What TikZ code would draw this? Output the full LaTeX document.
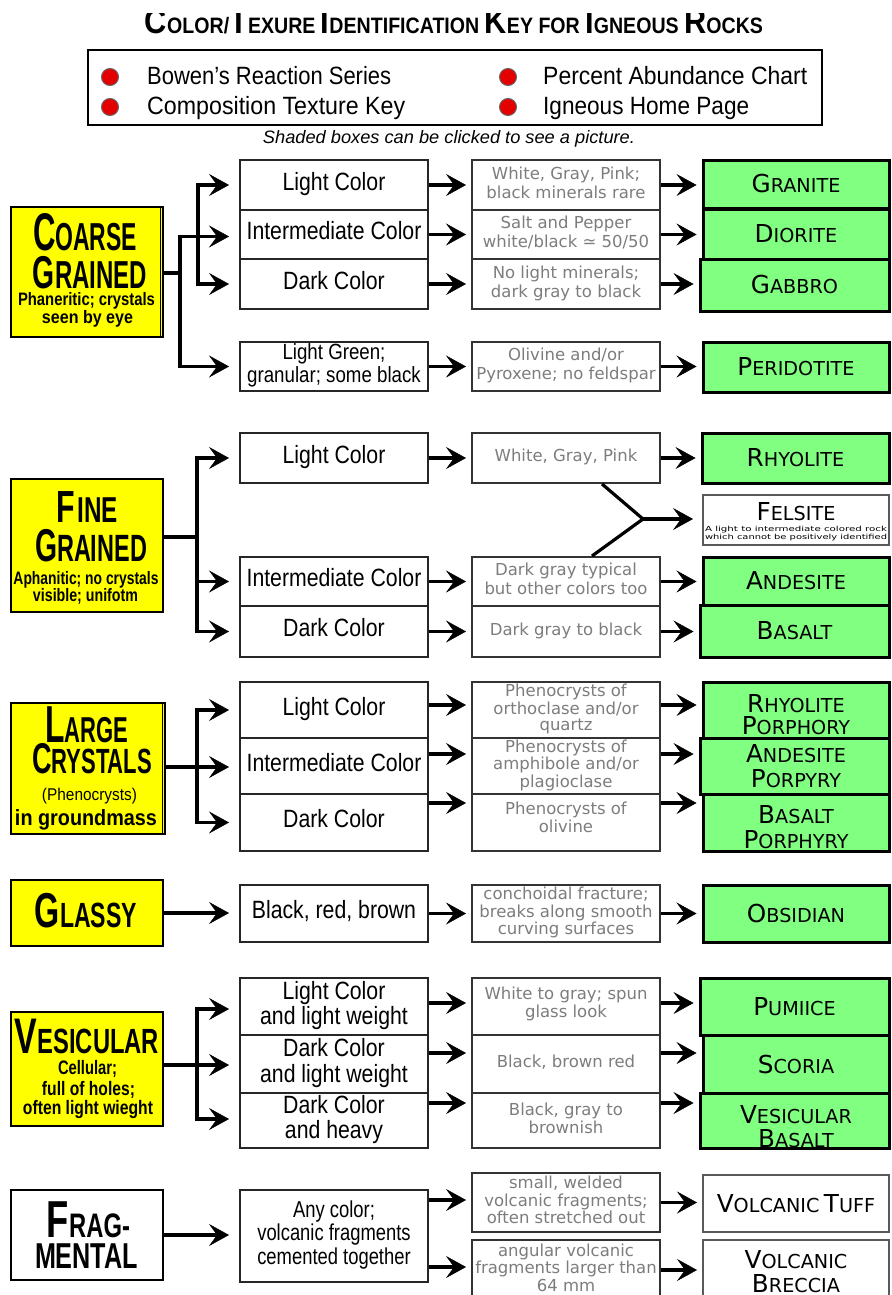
\documentclass[tikz,border=0pt]{standalone}
\usepackage{fontspec}
\usepackage{graphicx}
\setmainfont{Liberation Sans}
\newfontfamily\djv{DejaVu Sans}
\usetikzlibrary{arrows.meta}

\definecolor{rockgreen}{RGB}{128,255,128}
\definecolor{keyyellow}{RGB}{255,255,0}
\definecolor{dotred}{RGB}{228,0,0}
\definecolor{desctext}{RGB}{125,125,125}

% squeeze a box horizontally to a given width
\newcommand\hw[2]{\resizebox{#1}{\height}{#2}}
% large first letter followed by smaller capitals
\newcommand\bs[4]{{\fontsize{#1}{#1}\selectfont #3}{\fontsize{#2}{#2}\selectfont #4}}
% rock names in small capitals
\newcommand\rk[2]{{\fontsize{24.7}{25}\selectfont #1}{\fontsize{19.2}{20}\selectfont #2}}
% narrow centred lines for the colour column
\newcommand\cz[2][0.85]{\scalebox{#1}[1]{\begin{tabular}{@{}c@{}}#2\end{tabular}}}
% centred lines for the description column
\newcommand\dz[1]{\begin{tabular}{@{}c@{}}#1\end{tabular}}

\tikzset{
  keybox/.style={draw=black, line width=2.5pt, fill=keyyellow, inner sep=0pt, minimum width=152pt},
  colorbox/.style={draw=black!85, line width=2pt, fill=white, inner sep=0pt, minimum width=188pt,
                   font=\fontsize{25}{26}\selectfont},
  descbox/.style={draw=black!80, line width=2pt, fill=white, inner sep=0pt, minimum width=188pt,
                  text=desctext, font=\djv\fontsize{16.5}{19}\selectfont},
  tightdesc/.style={font=\djv\fontsize{16.5}{16.5}\selectfont},
  rockbox/.style={draw=black, line width=3pt, fill=rockgreen, inner sep=0pt, minimum width=186pt, font=\djv},
  plainrock/.style={draw=black!65, line width=2pt, fill=white, inner sep=0pt, minimum width=186pt, font=\djv},
  ktxt/.style={anchor=base, inner sep=0pt, font=\bfseries},
  rtxt/.style={anchor=base, inner sep=0pt, font=\djv},
  link/.style={line width=3.2pt},
  arr/.style={line width=3.2pt, -{Stealth[length=20pt,width=22pt,inset=8pt,line width=0.5pt]}},
  toMid/.style={arr, shorten >=10pt},
  toDesc/.style={arr, shorten >=5pt},
  toRock/.style={arr, shorten >=5pt},
  keydot/.style={circle, draw=black!60, line width=1pt, fill=dotred, minimum size=17pt, inner sep=0pt},
  legtxt/.style={anchor=base west, inner sep=0pt, font=\fontsize{25}{25}\selectfont},
}

\begin{document}
\begin{tikzpicture}[x=1pt, y=-1pt, line join=miter]
\useasboundingbox (0,0) rectangle (891,1295);
\fill[white] (0,0) rectangle (891,1295);

% ---------- heading ----------
\begin{scope}
  \clip (0,14) rectangle (891,60);
  \node[anchor=base, inner sep=0pt, font=\bfseries\fontsize{22.3}{22.3}\selectfont] (title) at (454,34)
    {\hw{618pt}{\bs{35}{22.3}{C}{OLOR/}\bs{35}{22.3}{T}{EXURE} \bs{35}{22.3}{I}{DENTIFICATION}
     \bs{35}{22.3}{K}{EY} FOR \bs{35}{22.3}{I}{GNEOUS} \bs{35}{22.3}{R}{OCKS}}};
\end{scope}

% ---------- link legend ----------
\node[draw=black, line width=2pt, minimum width=734pt, minimum height=75pt, inner sep=0pt] (legend) at (455,87.5) {};
\node[keydot] (dot1) at (110,77) {};
\node[keydot] (dot2) at (110,107) {};
\node[keydot] (dot3) at (508,77) {};
\node[keydot] (dot4) at (508,107) {};
\node[legtxt] (leg1) at (147,85) {\hw{244pt}{Bowen's Reaction Series}};
\node[legtxt] (leg2) at (147,115) {\hw{258pt}{Composition Texture Key}};
\node[legtxt] (leg3) at (543,85) {\hw{264pt}{Percent Abundance Chart}};
\node[legtxt] (leg4) at (543,115) {\hw{206pt}{Igneous Home Page}};
\node[anchor=base, inner sep=0pt, font=\itshape\fontsize{18}{18}\selectfont] (note) at (449,143)
  {\hw{372pt}{Shaded boxes can be clicked to see a picture.}};

% ---------- coarse grained ----------
\node[keybox, minimum height=130pt] (kCoarse) at (87,272) {};
\draw[line width=1pt] ([xshift=-4pt]kCoarse.north east) -- ([xshift=-4pt]kCoarse.south east);
\node[ktxt] (kCoarse1) at (85,250) {\hw{104pt}{\bs{53}{39}{C}{OARSE}}};
\node[ktxt] (kCoarse2) at (90,288) {\hw{114pt}{\bs{46}{39}{G}{RAINED}}};
\node[ktxt] (kCoarse3) at (86.5,305) {\hw{137pt}{\fontsize{18}{18}\selectfont Phaneritic; crystals}};
\node[ktxt] (kCoarse4) at (87.5,323) {\hw{91pt}{\fontsize{18}{18}\selectfont seen by eye}};

\node[colorbox, minimum height=50pt] (cL) at (334,185) {\cz{Light Color}};
\node[colorbox, minimum height=49pt] (cI) at (334,234.5) {\cz{Intermediate Color}};
\node[colorbox, minimum height=50pt] (cD) at (334,284) {\cz{Dark Color}};
\node[colorbox, minimum height=49pt, font=\fontsize{22}{23}\selectfont] (cG) at (334,366.5) {\cz{Light Green;\\granular; some black}};

\node[descbox, minimum height=50pt] (dL) at (566,185) {\dz{White, Gray, Pink;\\black minerals rare}};
\node[descbox, minimum height=49pt] (dI) at (566,234.5) {\dz{Salt and Pepper\\white/black ≃ 50/50}};
\node[descbox, minimum height=50pt] (dD) at (566,284) {\dz{No light minerals;\\dark gray to black}};
\node[descbox, minimum height=49pt] (dG) at (566,366.5) {\dz{Olivine and/or\\Pyroxene; no feldspar}};

\node[rockbox, minimum height=48pt] (rGranite) at (796,184) {\rk{G}{RANITE}};
\node[rockbox, minimum height=50pt] (rDiorite) at (796,234) {\rk{D}{IORITE}};
\node[rockbox, minimum width=189pt, minimum height=52pt] (rGabbro) at (794.5,285) {\rk{G}{ABBRO}};
\node[rockbox, minimum height=50pt] (rPerid) at (796,367) {\rk{P}{ERIDOTITE}};

\coordinate (jCoarse) at (180,273);
\coordinate (jTrunk) at (198,236);
\draw[link] (kCoarse.east |- jCoarse) -- (jCoarse);
\draw[toMid] (jCoarse) |- ([yshift=-2pt]cI.west);
\draw[toMid] (jCoarse) |- (cG.west);
\draw[toMid] (jTrunk) |- (cL.west);
\draw[toMid] (jTrunk) |- (cD.west);
\foreach \m/\d in {cL/dL, cI/dI, cD/dD, cG/dG} \draw[toDesc] (\m) -- (\d);
\draw[toRock] (dL.east) -- (rGranite.west |- dL.east);
\draw[toRock] (dI.east) -- (rDiorite.west |- dI.east);
\draw[toRock] (dD.east) -- (rGabbro.west |- dD.east);
\draw[toRock] (dG.east) -- (rPerid.west |- dG.east);

% ---------- fine grained ----------
\node[keybox, minimum height=133pt] (kFine) at (87,545.5) {};
\node[ktxt] (kFine1) at (87.5,522) {\hw{61pt}{\bs{45}{36}{F}{\kern3pt INE}}};
\node[ktxt] (kFine2) at (91,561) {\hw{112pt}{\bs{46}{38}{G}{RAINED}}};
\node[ktxt] (kFine3) at (86,584) {\hw{145pt}{\fontsize{18}{18}\selectfont Aphanitic; no crystals}};
\node[ktxt] (kFine4) at (85.5,601) {\hw{105pt}{\fontsize{18}{18}\selectfont visible; unifotm}};

\node[colorbox, minimum height=50pt] (cFL) at (334,458) {\cz{Light Color}};
\node[colorbox, minimum height=49pt] (cFI) at (334,581.5) {\cz{Intermediate Color}};
\node[colorbox, minimum height=51pt] (cFD) at (334,631.5) {\cz{Dark Color}};

\node[descbox, minimum height=50pt] (dFL) at (566,458) {\dz{White, Gray, Pink}};
\node[descbox, minimum height=49pt] (dFI) at (566,581.5) {\dz{Dark gray typical\\but other colors too}};
\node[descbox, minimum height=51pt] (dFD) at (566,631.5) {\dz{Dark gray to black}};

\node[rockbox, minimum width=187pt, minimum height=50pt] (rRhyo) at (795.5,458) {\rk{R}{HYOLITE}};
\node[plainrock, minimum height=50pt] (rFels) at (796,520) {};
\node[rtxt] (tFels) at (796,520) {\rk{F}{ELSITE}};
\node[rtxt] (tFels2) at (796,531) {\hw{182pt}{\fontsize{7}{7}\selectfont A light to intermediate colored rock}};
\node[rtxt] (tFels3) at (796,539) {\hw{182pt}{\fontsize{7}{7}\selectfont which cannot be positively identified}};
\node[rockbox, minimum height=48pt] (rAnd) at (796,581) {\rk{A}{NDESITE}};
\node[rockbox, minimum width=189pt, minimum height=52pt] (rBas) at (794.5,631) {\rk{B}{ASALT}};

\coordinate (jFine) at (197,537);
\coordinate (jFels) at (643,519);
\draw[link] (kFine.east |- jFine) -- (jFine);
\draw[toMid] (jFine) |- (cFL.west);
\draw[toMid] (jFine) |- (cFI.west);
\draw[toMid] (jFine) |- (cFD.west);
\foreach \m/\d in {cFL/dFL, cFI/dFI, cFD/dFD} \draw[toDesc] (\m) -- (\d);
\draw[toRock] (dFL.east) -- (rRhyo.west |- dFL.east);
\draw[toRock] (dFI.east) -- (rAnd.west |- dFI.east);
\draw[toRock] (dFD.east) -- (rBas.west |- dFD.east);
\draw[link] ([xshift=36pt]dFL.south) -- (jFels) -- ([xshift=26pt]dFI.north);
\draw[arr, shorten >=9pt] (jFels) -- (rFels.west |- jFels);

% ---------- large crystals ----------
\node[keybox, minimum width=154pt, minimum height=131pt] (kLarge) at (88,768.5) {};
\draw[line width=1pt] ([xshift=-4pt]kLarge.north east) -- ([xshift=-4pt]kLarge.south east);
\node[ktxt] (kLarge1) at (86.5,742) {\hw{83pt}{\bs{52}{36}{L}{ARGE}}};
\node[ktxt] (kLarge2) at (92,773) {\hw{120pt}{\bs{43}{35}{C}{RYSTALS}}};
\node[ktxt, font=\mdseries] (kLarge3) at (89.5,800) {\hw{95pt}{\fontsize{17}{17}\selectfont (Phenocrysts)}};
\node[ktxt] (kLarge4) at (86,825) {\hw{142pt}{\fontsize{22}{22}\selectfont in groundmass}};

\node[colorbox, minimum height=56pt] (cLL) at (334,710) {\cz{Light Color}};
\node[colorbox, minimum height=56pt] (cLI) at (334,766) {\cz{Intermediate Color}};
\node[colorbox, minimum height=57pt] (cLD) at (334,822.5) {\cz{Dark Color}};

\node[descbox, tightdesc, minimum height=56pt] (dLL) at (566,710) {\dz{Phenocrysts of\\orthoclase and/or\\quartz}};
\node[descbox, tightdesc, minimum height=56pt] (dLI) at (566,766) {\dz{Phenocrysts of\\amphibole and/or\\plagioclase}};
\node[descbox, minimum height=57pt, font=\djv\fontsize{16.5}{18}\selectfont] (dLD) at (566,822.5) {\dz{Phenocrysts of\\olivine\\[5pt]}};

\node[rockbox, minimum height=56pt] (rRP) at (796,710) {};
\node[rockbox, minimum width=189pt, minimum height=56pt] (rAP) at (794.5,766) {};
\node[rockbox, minimum height=57pt] (rBP) at (796,822.5) {};
\node[rtxt] (tRP1) at (796,712) {\rk{R}{HYOLITE}};
\node[rtxt] (tRP2) at (796,734) {\rk{P}{ORPHORY}};
\node[rtxt] (tAP1) at (796,762) {\rk{A}{NDESITE}};
\node[rtxt] (tAP2) at (796,787) {\rk{P}{ORPYRY}};
\node[rtxt] (tBP1) at (796,823) {\rk{B}{ASALT}};
\node[rtxt] (tBP2) at (796,848) {\rk{P}{ORPHYRY}};

\coordinate (jLarge) at (197,767);
\coordinate (yLa) at (0,705);
\coordinate (yLb) at (0,754);
\coordinate (yLc) at (0,803);
\draw[toMid] (kLarge.east |- jLarge) -- (cLI.west |- jLarge);
\draw[toMid] (jLarge) |- (cLL.west);
\draw[toMid] (jLarge) |- (cLD.west);
\draw[toDesc] (cLL.east |- yLa) -- (dLL.west |- yLa);
\draw[toDesc] (cLI.east |- yLb) -- (dLI.west |- yLb);
\draw[toDesc] (cLD.east |- yLc) -- (dLD.west |- yLc);
\draw[toRock] (dLL.east |- yLa) -- (rRP.west |- yLa);
\draw[toRock] (dLI.east |- yLb) -- (rAP.west |- yLb);
\draw[toRock] (dLD.east |- yLc) -- (rBP.west |- yLc);

% ---------- glassy ----------
\node[keybox, minimum height=66pt] (kGlassy) at (87,913) {};
\node[ktxt] (kGlassy1) at (86,927) {\hw{102pt}{\bs{49}{35}{G}{LASSY}}};
\node[colorbox, minimum height=57pt] (cGl) at (334,913.5) {\cz{Black, red, brown}};
\node[descbox, tightdesc, minimum height=57pt] (dGl) at (566,913.5) {\dz{conchoidal fracture;\\breaks along smooth\\curving surfaces}};
\node[rockbox, minimum height=57pt] (rObs) at (796,913.5) {\rk{O}{BSIDIAN}};
\draw[toMid] (kGlassy.east) -- (cGl.west |- kGlassy.east);
\draw[toDesc] (cGl) -- (dGl);
\draw[toRock] (dGl) -- (rObs);

% ---------- vesicular ----------
\node[keybox, minimum height=114pt] (kVes) at (87,1069) {};
\node[ktxt] (kVes1) at (87,1053) {\hw{144pt}{\bs{50}{35}{V}{ESICULAR}}};
\node[ktxt] (kVes2) at (87.5,1074) {\hw{59pt}{\fontsize{19.5}{19.5}\selectfont Cellular;}};
\node[ktxt] (kVes3) at (88.5,1095) {\hw{93pt}{\fontsize{19.5}{19.5}\selectfont full of holes;}};
\node[ktxt] (kVes4) at (88,1114) {\hw{130pt}{\fontsize{19.5}{19.5}\selectfont often light wieght}};

\node[colorbox, minimum height=57pt, font=\fontsize{25}{25}\selectfont] (cVa) at (334,1006.5) {\cz{Light Color\\and light weight}};
\node[colorbox, minimum height=58pt, font=\fontsize{25}{25}\selectfont] (cVb) at (334,1064) {\cz{Dark Color\\and light weight}};
\node[colorbox, minimum height=55pt, font=\fontsize{25}{25}\selectfont] (cVc) at (334,1120.5) {\cz{Dark Color\\and heavy}};

\node[descbox, minimum height=57pt, font=\djv\fontsize{16.5}{18}\selectfont] (dVa) at (566,1006.5) {\dz{White to gray; spun\\glass look\\[4pt]}};
\node[descbox, minimum height=58pt] (dVb) at (566,1064) {\dz{Black, brown red}};
\node[descbox, tightdesc, minimum height=55pt] (dVc) at (566,1120.5) {\dz{Black, gray to\\brownish}};

\node[rockbox, minimum width=189pt, minimum height=57pt] (rPum) at (794.5,1006.5) {\rk{P}{UMIICE}};
\node[rockbox, minimum height=58pt] (rSco) at (796,1064) {\rk{S}{CORIA}};
\node[rockbox, minimum width=189pt, minimum height=55pt] (rVB) at (794.5,1120.5) {};
\node[rtxt] (tVB1) at (796,1123) {\rk{V}{ESICULAR}};
\node[rtxt] (tVB2) at (796,1147) {\rk{B}{ASALT}};

\coordinate (jVes) at (197,1065);
\coordinate (yV1) at (0,1009);
\coordinate (yV3) at (0,1119);
\coordinate (yVa) at (0,1003);
\coordinate (yVb) at (0,1053);
\coordinate (yVc) at (0,1103);
\draw[toMid] (kVes.east |- jVes) -- (cVb.west |- jVes);
\draw[toMid] (jVes) |- (cVa.west |- yV1);
\draw[toMid] (jVes) |- (cVc.west |- yV3);
\draw[toDesc] (cVa.east |- yVa) -- (dVa.west |- yVa);
\draw[toDesc] (cVb.east |- yVb) -- (dVb.west |- yVb);
\draw[toDesc] (cVc.east |- yVc) -- (dVc.west |- yVc);
\draw[toRock] (dVa.east |- yVa) -- (rPum.west |- yVa);
\draw[toRock] (dVb.east |- yVb) -- (rSco.west |- yVb);
\draw[toRock] (dVc.east |- yVc) -- (rVB.west |- yVc);

% ---------- fragmental ----------
\node[keybox, fill=white, line width=2pt, minimum height=90pt] (kFrag) at (87,1235) {};
\node[ktxt] (kFrag1) at (88.5,1237) {\hw{83pt}{\bs{52}{34}{F}{RAG-}}};
\node[ktxt] (kFrag2) at (86.5,1268) {\hw{103pt}{\fontsize{36}{36}\selectfont MENTAL}};

\node[colorbox, minimum height=92pt, font=\fontsize{23}{23.5}\selectfont] (cFr) at (334,1236) {\cz[0.8]{Any color;\\volcanic fragments\\cemented together}};
\node[descbox, tightdesc, minimum height=59pt] (dFra) at (566,1202.5) {\dz{small, welded\\volcanic fragments;\\often stretched out}};
\node[descbox, tightdesc, minimum height=60pt] (dFrb) at (566,1270) {\dz{angular volcanic\\fragments larger than\\64 mm}};
\node[plainrock, minimum height=57pt] (rTuff) at (796,1203.5) {\rk{V}{OLCANIC}\hspace{0.45em}\rk{T}{UFF}};
\node[plainrock, minimum height=60pt] (rBrec) at (796,1270) {};
\node[rtxt] (tBr1) at (796,1268) {\rk{V}{OLCANIC}};
\node[rtxt] (tBr2) at (796,1292) {\rk{B}{RECCIA}};

\coordinate (yFa) at (0,1200);
\coordinate (yFb) at (0,1267);
\draw[toMid] (kFrag.east) -- (cFr.west |- kFrag.east);
\draw[toDesc] (cFr.east |- yFa) -- (dFra.west |- yFa);
\draw[toDesc] (cFr.east |- yFb) -- (dFrb.west |- yFb);
\draw[toRock] (dFra.east) -- (rTuff.west |- dFra.east);
\draw[toRock] (dFrb.east) -- (rBrec.west |- dFrb.east);
\end{tikzpicture}
\end{document}
